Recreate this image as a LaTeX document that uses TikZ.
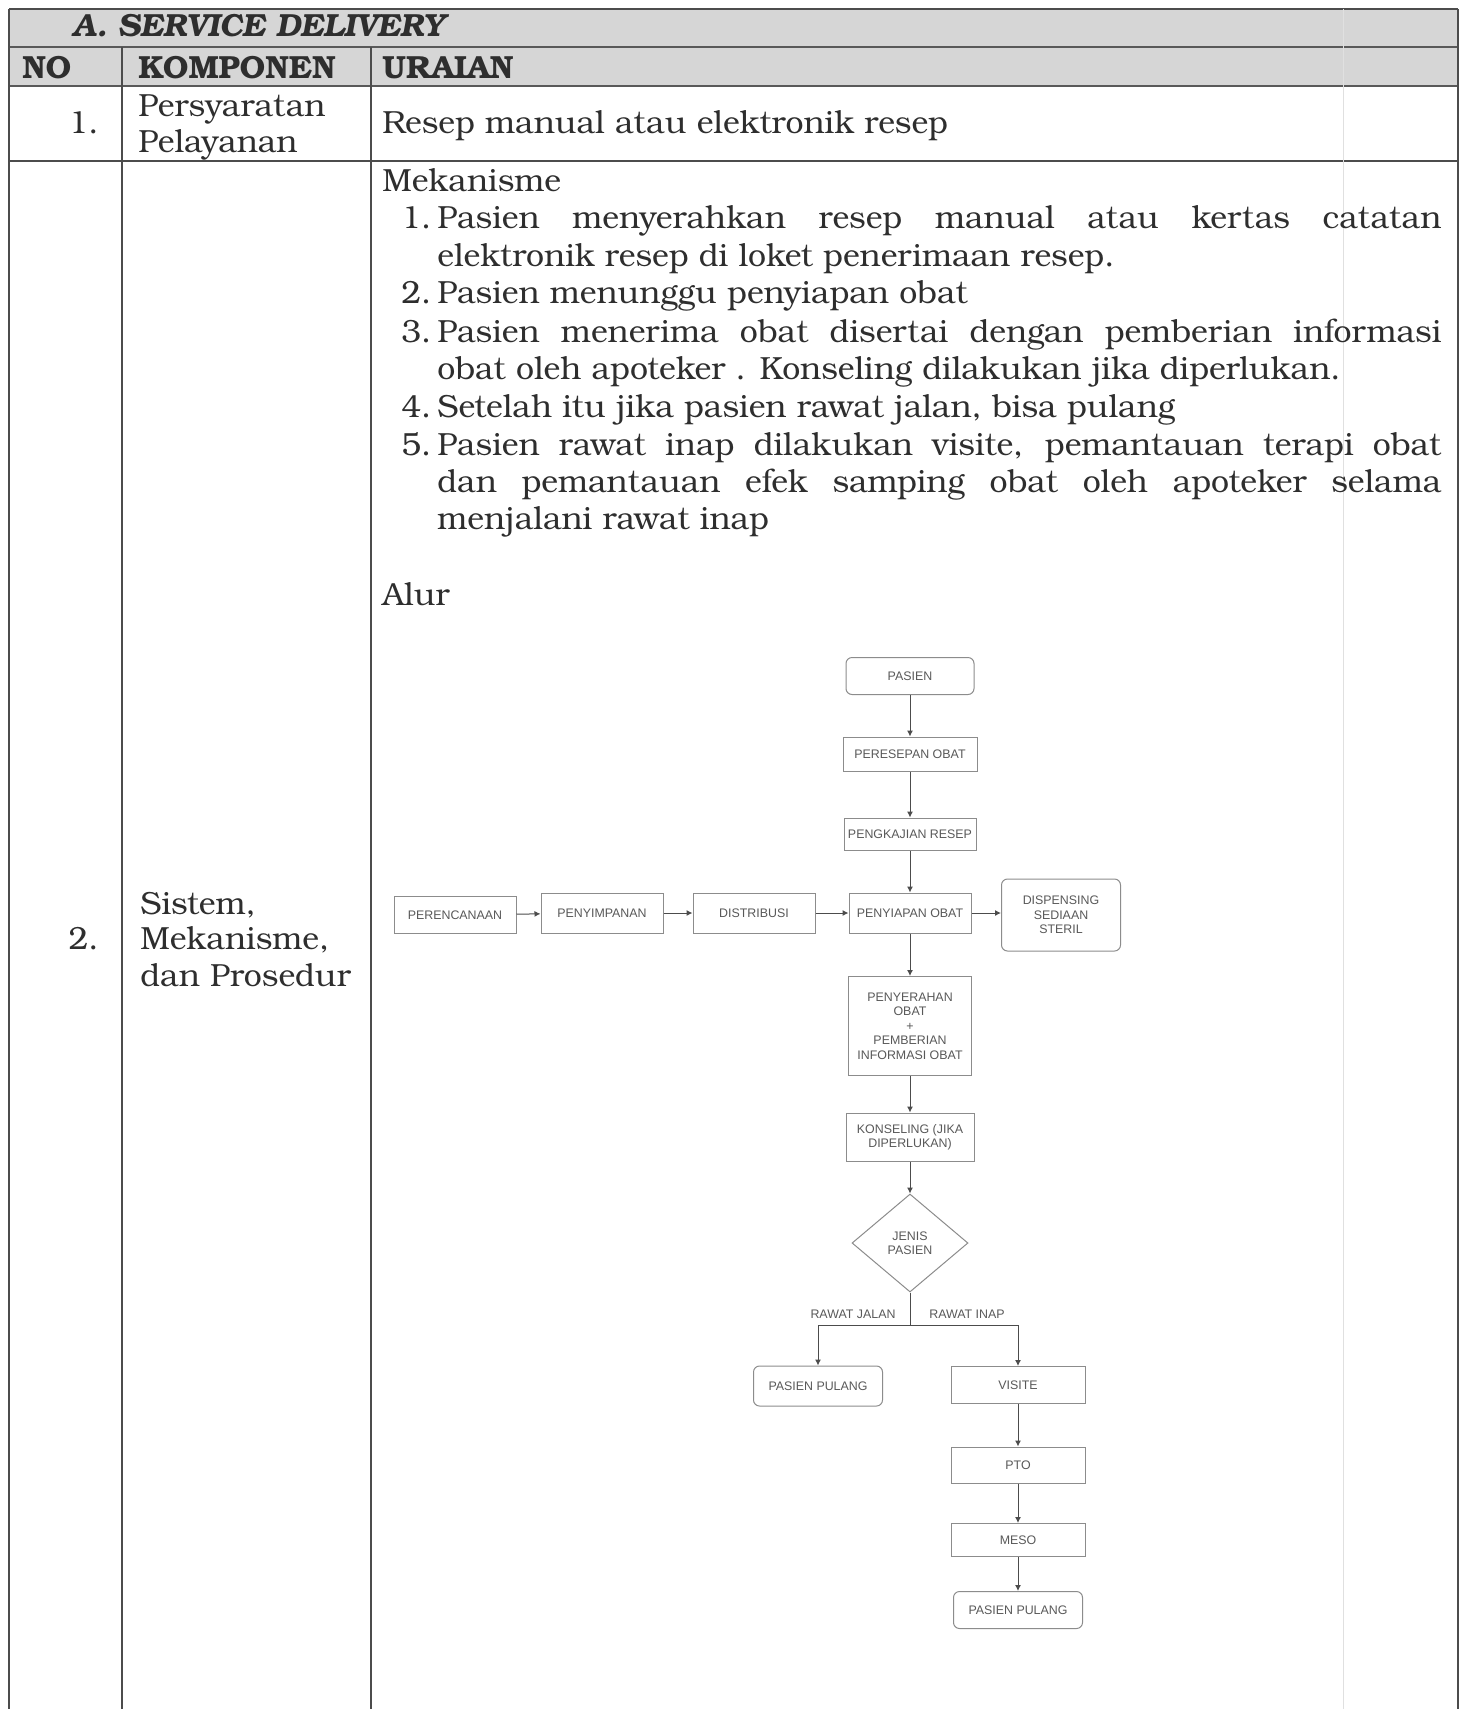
\documentclass[tikz,border=0pt]{standalone}
\usepackage{fontspec}
\setmainfont{TeX Gyre Bonum}
\newfontfamily\flowfont{Liberation Sans}
\usetikzlibrary{shapes.geometric,arrows.meta}
\newcommand\bodyfnt{\fontsize{16}{18.8}\selectfont}
\newcommand\flowfnt{\flowfont\fontsize{6.2}{7.2}\selectfont}
\begin{document}
\begin{tikzpicture}[x=0.5pt,y=-0.5pt,
  rule/.style={draw=black!70,line width=0.7pt},
  heavyrule/.style={draw=black!65,line width=1.3pt},
  txt/.style={anchor=base west,inner sep=0pt,font=\bodyfnt,text=black!82},
  rtxt/.style={anchor=base east,inner sep=0pt,font=\bodyfnt,text=black!82},
  flowbox/.style={draw=black!45,line width=0.5pt,fill=white,font=\flowfnt,
    text=black!65,align=center,inner sep=1pt},
  roundbox/.style={flowbox,rounded corners=3pt},
  decision/.style={flowbox,diamond,inner sep=0pt},
  flowlabel/.style={font=\flowfnt,text=black!65,inner sep=0pt},
  arr/.style={draw=black!70,line width=0.5pt,-{Latex[length=3pt,width=3pt]}}
]
\useasboundingbox (0,0) rectangle (1463,1709);
\fill[white] (0,0) rectangle (1463,1709);

% shaded heading rows
\fill[black!16] (9,9) rectangle (1458,86);

% table rules
\draw[rule] (9,9) -- (1458,9);
\draw[heavyrule] (9,47) -- (1458,47);
\draw[heavyrule] (9,86) -- (1458,86);
\draw[rule] (9,161) -- (1458,161);
\draw[rule] (9,9) -- (9,1709);
\draw[rule] (1458,9) -- (1458,1709);
\draw[rule] (122,47) -- (122,1709);
\draw[rule] (371,47) -- (371,1709);
\draw[draw=black!12,line width=0.5pt] (1343,9) -- (1343,1709);

% heading texts
\node[txt,font=\bodyfnt\bfseries\itshape] (sec) at (72,36) {A. SERVICE DELIVERY};
\node[txt,font=\bodyfnt\bfseries] (hno) at (22,78) {NO};
\node[txt,font=\bodyfnt\bfseries] (hkomp) at (138,78) {KOMPONEN};
\node[txt,font=\bodyfnt\bfseries] (hurai) at (382,78) {URAIAN};

% row 1
\node[rtxt] (n1) at (99,133) {1.};
\node[txt] (k1a) at (138,116) {Persyaratan};
\node[txt] (k1b) at (138,152) {Pelayanan};
\node[txt] (u1) at (382,133) {Resep manual atau elektronik resep};

% row 2, left cells
\node[rtxt] (n2) at (99,949) {2.};
\node[txt] (k2a) at (140,914) {Sistem,};
\node[txt] (k2b) at (140,949) {Mekanisme,};
\node[txt] (k2c) at (140,986) {dan Prosedur};

% row 2, description
\node[txt] (mek) at (382,191) {Mekanisme};
\node[txt] (i1n) at (401,228) {1.};
\node[txt] (i1a) at (437,228) {\makebox[502pt][s]{Pasien menyerahkan resep manual atau kertas catatan}};
\node[txt] (i1b) at (437,266) {elektronik resep di loket penerimaan resep.};
\node[txt] (i2n) at (401,303) {2.};
\node[txt] (i2a) at (437,303) {Pasien menunggu penyiapan obat};
\node[txt] (i3n) at (401,342) {3.};
\node[txt] (i3a) at (437,342) {\makebox[502pt][s]{Pasien menerima obat disertai dengan pemberian informasi}};
\node[txt] (i3b) at (437,379) {obat oleh apoteker . Konseling dilakukan jika diperlukan.};
\node[txt] (i4n) at (401,417) {4.};
\node[txt] (i4a) at (437,417) {Setelah itu jika pasien rawat jalan, bisa pulang};
\node[txt] (i5n) at (401,455) {5.};
\node[txt] (i5a) at (437,455) {\makebox[502pt][s]{Pasien rawat inap dilakukan visite, pemantauan terapi obat}};
\node[txt] (i5b) at (437,492) {\makebox[502pt][s]{dan pemantauan efek samping obat oleh apoteker selama}};
\node[txt] (i5c) at (437,529) {menjalani rawat inap};
\node[txt] (alur) at (382,605) {Alur};

% flowchart
\node[roundbox,minimum width=64pt,minimum height=18.5pt] (pasien) at (910,676) {PASIEN};
\node[flowbox,minimum width=67pt,minimum height=17pt] (peresepan) at (910,754) {PERESEPAN OBAT};
\node[flowbox,minimum width=66pt,minimum height=16pt] (pengkajian) at (910,834) {PENGKAJIAN RESEP};
\node[flowbox,minimum width=61pt,minimum height=20pt] (penyiapan) at (910,913) {PENYIAPAN OBAT};
\node[flowbox,minimum width=61pt,minimum height=18.5pt] (perencanaan) at (455,915) {PERENCANAAN};
\node[flowbox,minimum width=61pt,minimum height=20pt] (penyimpanan) at (602,913) {PENYIMPANAN};
\node[flowbox,minimum width=61pt,minimum height=20pt] (distribusi) at (754,913) {DISTRIBUSI};
\node[roundbox,minimum width=59.5pt,minimum height=36pt] (dispensing) at (1061,915) {DISPENSING\\SEDIAAN\\STERIL};
\node[flowbox,minimum width=61.5pt,minimum height=49.5pt] (penyerahan) at (910,1026)
  {PENYERAHAN\\OBAT\\+\\PEMBERIAN\\INFORMASI OBAT};
\node[flowbox,minimum width=64pt,minimum height=24pt] (konseling) at (910,1137) {KONSELING (JIKA\\DIPERLUKAN)};
\node[decision,minimum width=58pt,minimum height=49pt] (jenis) at (910,1243) {JENIS\\PASIEN};
\coordinate (cabang) at (910,1325);
\node[roundbox,minimum width=64.5pt,minimum height=20pt] (pulang1) at (818,1386) {PASIEN PULANG};
\node[flowbox,minimum width=67pt,minimum height=18.5pt] (visite) at (1018,1385) {VISITE};
\node[flowbox,minimum width=67pt,minimum height=18pt] (pto) at (1018,1465) {PTO};
\node[flowbox,minimum width=67pt,minimum height=16.5pt] (meso) at (1018,1540) {MESO};
\node[roundbox,minimum width=64.5pt,minimum height=18.5pt] (pulang2) at (1018,1610) {PASIEN PULANG};

\node[flowlabel] (ljalan) at (853,1314) {RAWAT JALAN};
\node[flowlabel] (linap) at (967,1314) {RAWAT INAP};

\draw[arr] (pasien) -- (peresepan);
\draw[arr] (peresepan) -- (pengkajian);
\draw[arr] (pengkajian) -- (penyiapan);
\draw[arr] (perencanaan) -- (penyimpanan);
\draw[arr] (penyimpanan) -- (distribusi);
\draw[arr] (distribusi) -- (penyiapan);
\draw[arr] (penyiapan) -- (dispensing.west |- penyiapan);
\draw[arr] (penyiapan) -- (penyerahan);
\draw[arr] (penyerahan) -- (konseling);
\draw[arr] (konseling) -- (jenis);
\draw[draw=black!70,line width=0.5pt] (jenis.south) -- (cabang);
\draw[arr] (cabang) -| (pulang1);
\draw[arr] (cabang) -| (visite);
\draw[arr] (visite) -- (pto);
\draw[arr] (pto) -- (meso);
\draw[arr] (meso) -- (pulang2);
\end{tikzpicture}
\end{document}
